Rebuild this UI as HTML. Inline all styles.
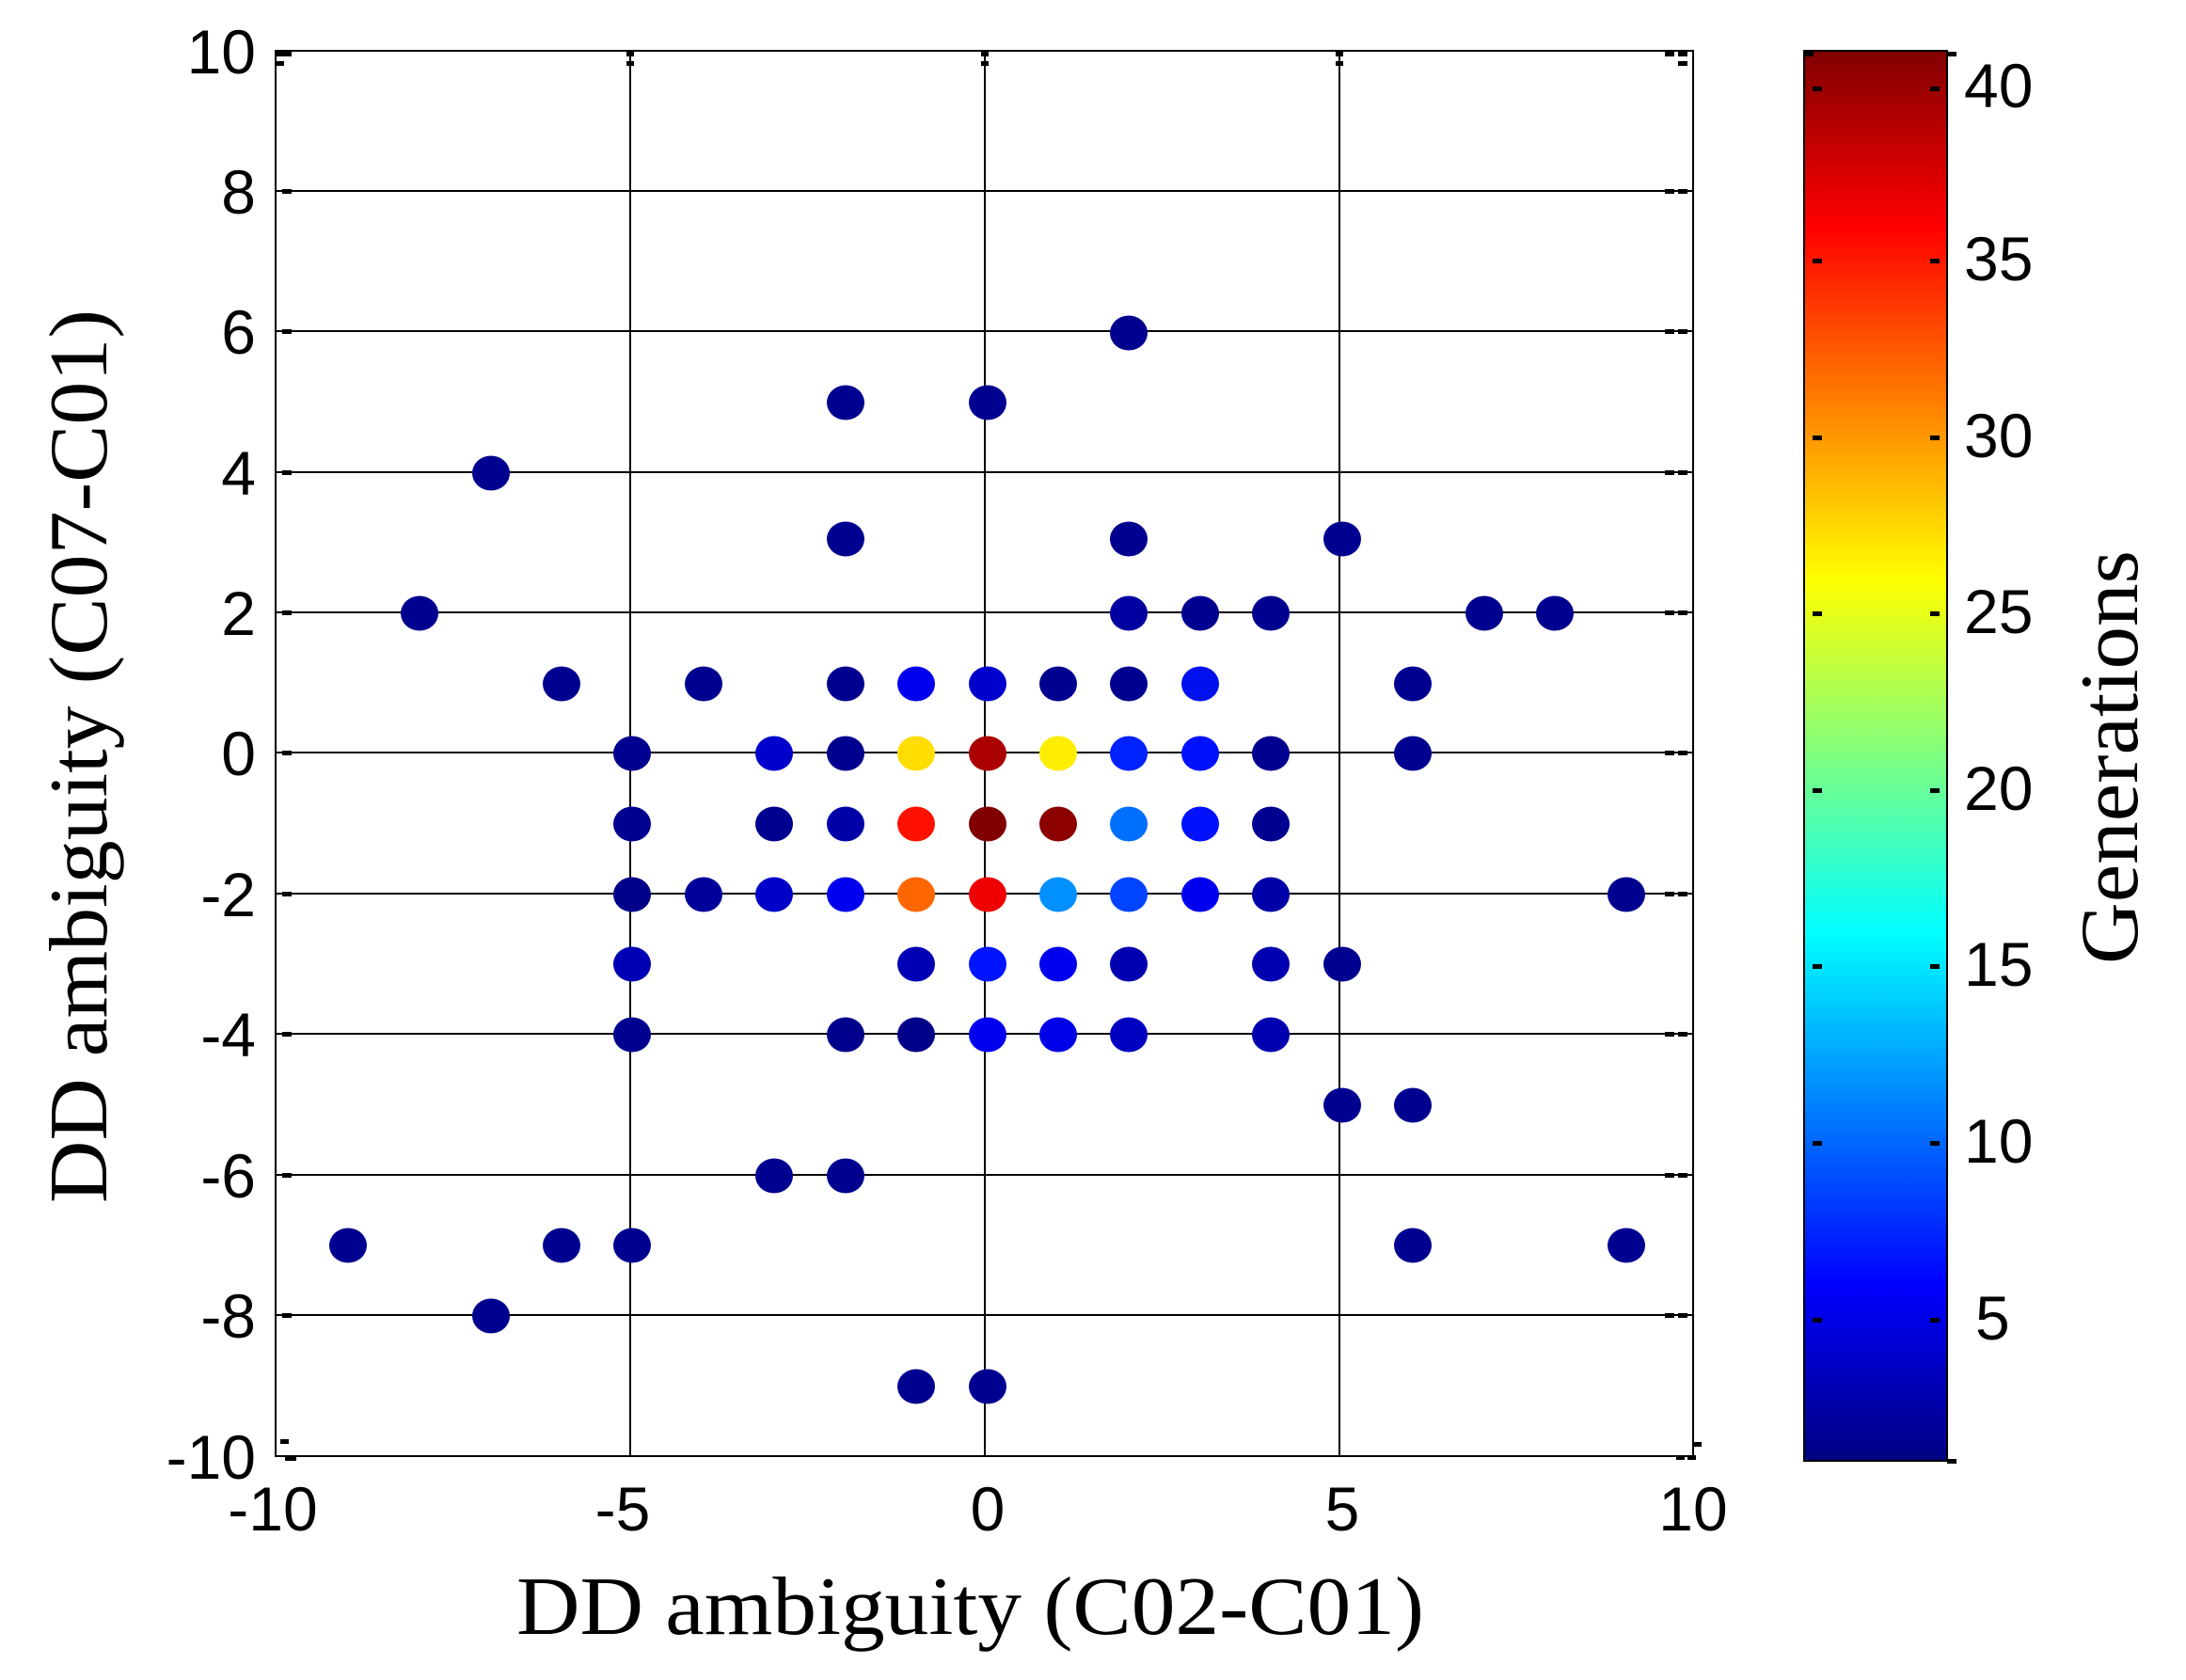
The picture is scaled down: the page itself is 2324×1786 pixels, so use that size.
<!DOCTYPE html>
<html><head><meta charset="utf-8"><style>html,body{margin:0;padding:0;background:#fff}svg{display:block}</style></head>
<body>
<svg width="2324" height="1786" xmlns="http://www.w3.org/2000/svg">
<defs>
<linearGradient id="jet" x1="0" y1="1" x2="0" y2="0">
<stop offset="0" stop-color="#000080"/>
<stop offset="0.125" stop-color="#0000ff"/>
<stop offset="0.375" stop-color="#00ffff"/>
<stop offset="0.625" stop-color="#ffff00"/>
<stop offset="0.875" stop-color="#ff0000"/>
<stop offset="1" stop-color="#800000"/>
</linearGradient>
</defs>
<rect width="2324" height="1786" fill="#fff"/>
<g stroke="#000" stroke-width="2">
<line x1="670" y1="54" x2="670" y2="1548"/>
<line x1="1047" y1="54" x2="1047" y2="1548"/>
<line x1="1424" y1="54" x2="1424" y2="1548"/>
<line x1="293" y1="203" x2="1800" y2="203"/>
<line x1="293" y1="352" x2="1800" y2="352"/>
<line x1="293" y1="502" x2="1800" y2="502"/>
<line x1="293" y1="651" x2="1800" y2="651"/>
<line x1="293" y1="800" x2="1800" y2="800"/>
<line x1="293" y1="950" x2="1800" y2="950"/>
<line x1="293" y1="1099" x2="1800" y2="1099"/>
<line x1="293" y1="1249" x2="1800" y2="1249"/>
<line x1="293" y1="1398" x2="1800" y2="1398"/>
<rect x="293" y="54" width="1507" height="1494" fill="none"/>
</g>
<g fill="#000">
<rect x="294" y="55" width="16" height="5"/><rect x="294" y="65" width="8" height="5"/>
<rect x="666" y="55" width="8" height="5"/><rect x="666" y="65" width="8" height="5"/>
<rect x="1043" y="55" width="8" height="5"/><rect x="1043" y="65" width="8" height="5"/>
<rect x="1420" y="55" width="8" height="5"/><rect x="1420" y="65" width="8" height="5"/>
<rect x="1770" y="55" width="10" height="5"/><rect x="1784" y="55" width="10" height="5"/><rect x="1784" y="65" width="10" height="5"/>
<rect x="298" y="1530" width="9" height="5"/><rect x="303" y="1548" width="12" height="5"/>
<rect x="1782" y="1547" width="9" height="5"/><rect x="1794" y="1547" width="9" height="5"/><rect x="1800" y="1533" width="9" height="5"/>
</g>
<g fill="#000">
<rect x="300" y="201" width="10" height="5"/><rect x="300" y="350" width="10" height="5"/><rect x="300" y="500" width="10" height="5"/><rect x="300" y="649" width="10" height="5"/><rect x="300" y="798" width="10" height="5"/><rect x="300" y="948" width="10" height="5"/><rect x="300" y="1097" width="10" height="5"/><rect x="300" y="1247" width="10" height="5"/><rect x="300" y="1396" width="10" height="5"/>
<rect x="1770" y="201" width="10" height="5"/><rect x="1784" y="201" width="10" height="5"/>
<rect x="1770" y="350" width="10" height="5"/><rect x="1784" y="350" width="10" height="5"/>
<rect x="1770" y="500" width="10" height="5"/><rect x="1784" y="500" width="10" height="5"/>
<rect x="1770" y="649" width="10" height="5"/><rect x="1784" y="649" width="10" height="5"/>
<rect x="1770" y="798" width="10" height="5"/><rect x="1784" y="798" width="10" height="5"/>
<rect x="1770" y="948" width="10" height="5"/><rect x="1784" y="948" width="10" height="5"/>
<rect x="1770" y="1097" width="10" height="5"/><rect x="1784" y="1097" width="10" height="5"/>
<rect x="1770" y="1247" width="10" height="5"/><rect x="1784" y="1247" width="10" height="5"/>
<rect x="1770" y="1396" width="10" height="5"/><rect x="1784" y="1396" width="10" height="5"/>
</g>
<g font-family="Liberation Sans, sans-serif" font-size="66" fill="#000" text-anchor="end">
<text x="272" y="78">10</text>
<text x="272" y="227">8</text>
<text x="272" y="376">6</text>
<text x="272" y="526">4</text>
<text x="272" y="675">2</text>
<text x="272" y="824">0</text>
<text x="272" y="974">-2</text>
<text x="272" y="1123">-4</text>
<text x="272" y="1273">-6</text>
<text x="272" y="1422">-8</text>
<text x="272" y="1572">-10</text>
</g>
<g font-family="Liberation Sans, sans-serif" font-size="66" fill="#000" text-anchor="middle">
<text x="290" y="1627">-10</text>
<text x="662" y="1627">-5</text>
<text x="1050" y="1627">0</text>
<text x="1427" y="1627">5</text>
<text x="1800" y="1627">10</text>
</g>
<text x="549" y="1737" font-family="Liberation Serif, serif" font-size="88" textLength="965" lengthAdjust="spacingAndGlyphs">DD ambiguity (C02-C01)</text>
<text transform="translate(113,1279) rotate(-90)" font-family="Liberation Serif, serif" font-size="88" textLength="950" lengthAdjust="spacingAndGlyphs">DD ambiguity (C07-C01)</text>
<g transform="translate(-4,-4)">
<ellipse cx="1204" cy="358" rx="20" ry="18.5" fill="#000090"/>
<ellipse cx="903" cy="432" rx="20" ry="18.5" fill="#000090"/>
<ellipse cx="1054" cy="432" rx="20" ry="18.5" fill="#000090"/>
<ellipse cx="526" cy="507" rx="20" ry="18.5" fill="#000090"/>
<ellipse cx="903" cy="577" rx="20" ry="18.5" fill="#000090"/>
<ellipse cx="1204" cy="577" rx="20" ry="18.5" fill="#000090"/>
<ellipse cx="1431" cy="577" rx="20" ry="18.5" fill="#000090"/>
<ellipse cx="450" cy="656" rx="20" ry="18.5" fill="#000090"/>
<ellipse cx="1204" cy="656" rx="20" ry="18.5" fill="#0000a0"/>
<ellipse cx="1280" cy="656" rx="20" ry="18.5" fill="#000090"/>
<ellipse cx="1355" cy="656" rx="20" ry="18.5" fill="#000090"/>
<ellipse cx="1582" cy="656" rx="20" ry="18.5" fill="#000090"/>
<ellipse cx="1657" cy="656" rx="20" ry="18.5" fill="#000090"/>
<ellipse cx="601" cy="731" rx="20" ry="18.5" fill="#000090"/>
<ellipse cx="752" cy="731" rx="20" ry="18.5" fill="#000090"/>
<ellipse cx="903" cy="731" rx="20" ry="18.5" fill="#000090"/>
<ellipse cx="978" cy="731" rx="20" ry="18.5" fill="#0000ee"/>
<ellipse cx="1054" cy="731" rx="20" ry="18.5" fill="#0000cc"/>
<ellipse cx="1129" cy="731" rx="20" ry="18.5" fill="#000090"/>
<ellipse cx="1204" cy="731" rx="20" ry="18.5" fill="#000090"/>
<ellipse cx="1280" cy="731" rx="20" ry="18.5" fill="#0011ee"/>
<ellipse cx="1506" cy="731" rx="20" ry="18.5" fill="#000090"/>
<ellipse cx="676" cy="805" rx="20" ry="18.5" fill="#000090"/>
<ellipse cx="827" cy="805" rx="20" ry="18.5" fill="#0000cc"/>
<ellipse cx="903" cy="805" rx="20" ry="18.5" fill="#00008f"/>
<ellipse cx="978" cy="805" rx="20" ry="18.5" fill="#ffdd00"/>
<ellipse cx="1054" cy="805" rx="20" ry="18.5" fill="#aa0000"/>
<ellipse cx="1129" cy="805" rx="20" ry="18.5" fill="#ffee00"/>
<ellipse cx="1204" cy="805" rx="20" ry="18.5" fill="#0022ff"/>
<ellipse cx="1280" cy="805" rx="20" ry="18.5" fill="#0011ff"/>
<ellipse cx="1355" cy="805" rx="20" ry="18.5" fill="#000090"/>
<ellipse cx="1506" cy="805" rx="20" ry="18.5" fill="#000090"/>
<ellipse cx="676" cy="880" rx="20" ry="18.5" fill="#000090"/>
<ellipse cx="827" cy="880" rx="20" ry="18.5" fill="#000090"/>
<ellipse cx="903" cy="880" rx="20" ry="18.5" fill="#0000a8"/>
<ellipse cx="978" cy="880" rx="20" ry="18.5" fill="#ff1100"/>
<ellipse cx="1054" cy="880" rx="20" ry="18.5" fill="#800000"/>
<ellipse cx="1129" cy="880" rx="20" ry="18.5" fill="#8c0000"/>
<ellipse cx="1204" cy="880" rx="20" ry="18.5" fill="#0070ff"/>
<ellipse cx="1280" cy="880" rx="20" ry="18.5" fill="#0011ff"/>
<ellipse cx="1355" cy="880" rx="20" ry="18.5" fill="#000090"/>
<ellipse cx="676" cy="955" rx="20" ry="18.5" fill="#000088"/>
<ellipse cx="752" cy="955" rx="20" ry="18.5" fill="#00009a"/>
<ellipse cx="827" cy="955" rx="20" ry="18.5" fill="#0000c8"/>
<ellipse cx="903" cy="955" rx="20" ry="18.5" fill="#0000ee"/>
<ellipse cx="978" cy="955" rx="20" ry="18.5" fill="#ff6600"/>
<ellipse cx="1054" cy="955" rx="20" ry="18.5" fill="#ee0000"/>
<ellipse cx="1129" cy="955" rx="20" ry="18.5" fill="#0090ff"/>
<ellipse cx="1204" cy="955" rx="20" ry="18.5" fill="#0044ff"/>
<ellipse cx="1280" cy="955" rx="20" ry="18.5" fill="#0000ee"/>
<ellipse cx="1355" cy="955" rx="20" ry="18.5" fill="#0000a8"/>
<ellipse cx="1733" cy="955" rx="20" ry="18.5" fill="#000090"/>
<ellipse cx="676" cy="1029" rx="20" ry="18.5" fill="#0000b4"/>
<ellipse cx="978" cy="1029" rx="20" ry="18.5" fill="#0000b4"/>
<ellipse cx="1054" cy="1029" rx="20" ry="18.5" fill="#0014ff"/>
<ellipse cx="1129" cy="1029" rx="20" ry="18.5" fill="#0000ee"/>
<ellipse cx="1204" cy="1029" rx="20" ry="18.5" fill="#0000b0"/>
<ellipse cx="1355" cy="1029" rx="20" ry="18.5" fill="#0000b0"/>
<ellipse cx="1431" cy="1029" rx="20" ry="18.5" fill="#000090"/>
<ellipse cx="676" cy="1104" rx="20" ry="18.5" fill="#000090"/>
<ellipse cx="903" cy="1104" rx="20" ry="18.5" fill="#00008c"/>
<ellipse cx="978" cy="1104" rx="20" ry="18.5" fill="#000088"/>
<ellipse cx="1054" cy="1104" rx="20" ry="18.5" fill="#0000ee"/>
<ellipse cx="1129" cy="1104" rx="20" ry="18.5" fill="#0000e8"/>
<ellipse cx="1204" cy="1104" rx="20" ry="18.5" fill="#0000c0"/>
<ellipse cx="1355" cy="1104" rx="20" ry="18.5" fill="#0000b0"/>
<ellipse cx="1431" cy="1179" rx="20" ry="18.5" fill="#000090"/>
<ellipse cx="1506" cy="1179" rx="20" ry="18.5" fill="#000090"/>
<ellipse cx="827" cy="1254" rx="20" ry="18.5" fill="#000090"/>
<ellipse cx="903" cy="1254" rx="20" ry="18.5" fill="#000090"/>
<ellipse cx="374" cy="1328" rx="20" ry="18.5" fill="#000090"/>
<ellipse cx="601" cy="1328" rx="20" ry="18.5" fill="#000090"/>
<ellipse cx="676" cy="1328" rx="20" ry="18.5" fill="#000090"/>
<ellipse cx="1506" cy="1328" rx="20" ry="18.5" fill="#000090"/>
<ellipse cx="1733" cy="1328" rx="20" ry="18.5" fill="#000090"/>
<ellipse cx="526" cy="1403" rx="20" ry="18.5" fill="#000090"/>
<ellipse cx="978" cy="1478" rx="20" ry="18.5" fill="#000090"/>
<ellipse cx="1054" cy="1478" rx="20" ry="18.5" fill="#000090"/>
</g>
<rect x="1918" y="54" width="152" height="1499" fill="url(#jet)" stroke="#000" stroke-width="2"/>
<g fill="#000">
<rect x="1918" y="55" width="10" height="5"/><rect x="2070" y="55" width="10" height="5"/><rect x="2070" y="1551" width="10" height="5"/>
<rect x="1927" y="92" width="10" height="5"/><rect x="2052" y="92" width="10" height="5"/>
<rect x="1927" y="275" width="10" height="5"/><rect x="2052" y="275" width="10" height="5"/>
<rect x="1927" y="463" width="10" height="5"/><rect x="2052" y="463" width="10" height="5"/>
<rect x="1927" y="650" width="10" height="5"/><rect x="2052" y="650" width="10" height="5"/>
<rect x="1927" y="838" width="10" height="5"/><rect x="2052" y="838" width="10" height="5"/>
<rect x="1927" y="1025" width="10" height="5"/><rect x="2052" y="1025" width="10" height="5"/>
<rect x="1927" y="1213" width="10" height="5"/><rect x="2052" y="1213" width="10" height="5"/>
<rect x="1927" y="1401" width="10" height="5"/><rect x="2052" y="1401" width="10" height="5"/>
</g>
<g font-family="Liberation Sans, sans-serif" font-size="66" fill="#000">
<text x="2088" y="114">40</text>
<text x="2088" y="298">35</text>
<text x="2088" y="486">30</text>
<text x="2088" y="673">25</text>
<text x="2088" y="861">20</text>
<text x="2088" y="1048">15</text>
<text x="2088" y="1236">10</text>
<text x="2100" y="1424">5</text>
</g>
<text transform="translate(2272,1025) rotate(-90)" font-family="Liberation Serif, serif" font-size="88" textLength="440" lengthAdjust="spacingAndGlyphs">Generations</text>
</svg>
</body></html>
